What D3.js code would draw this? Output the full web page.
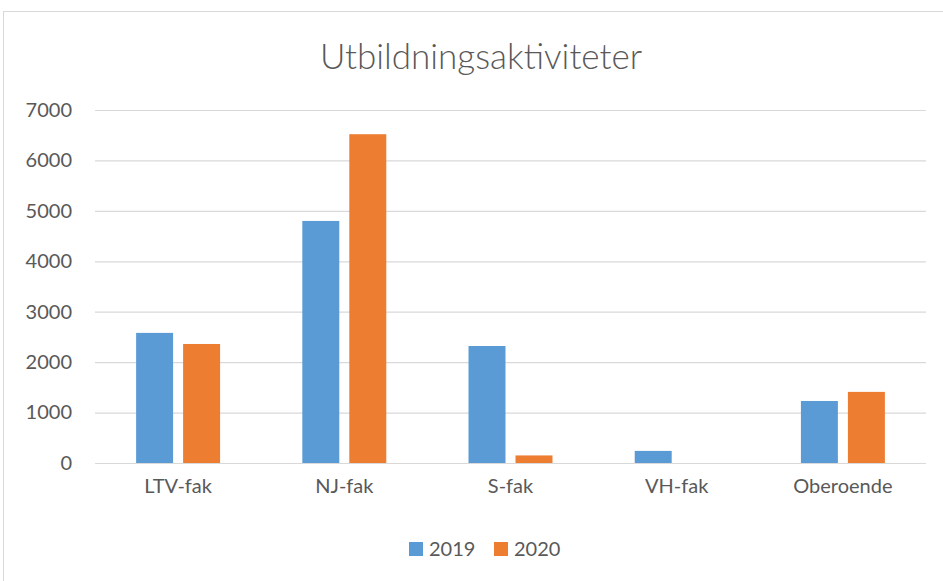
<!DOCTYPE html>
<html>
<head>
<meta charset="utf-8">
<script src="https://cdn.jsdelivr.net/npm/d3@7"></script>
<style>
  body { margin: 0; background: #fff; }
  text { font-family: Lato, "Open Sans", sans-serif; fill: #595959; }
</style>
</head>
<body>
<div id="chart"></div>
<script>
// data
const categories = ["LTV-fak", "NJ-fak", "S-fak", "VH-fak", "Oberoende"];
const series = ["2019", "2020"];
const values2019 = [2580, 4800, 2320, 240, 1230];
const values2020 = [2360, 6520, 150, 0, 1410];
const yTicks = [0, 1000, 2000, 3000, 4000, 5000, 6000, 7000];
const colors = ["#5b9bd5", "#ed7d31"];

const W = 943, H = 581;
const plot = { left: 95, right: 926, top: 110, bottom: 463 };

const svg = d3.select("#chart").append("svg")
    .attr("width", W)
    .attr("height", H);

// chart area border (runs off the right and bottom edge)
svg.append("rect")
    .attr("x", 3.5).attr("y", 11.5)
    .attr("width", W + 10).attr("height", H + 10)
    .attr("fill", "none")
    .attr("stroke", "#d9d9d9");

svg.append("text")
    .attr("x", 481).attr("y", 69)
    .attr("text-anchor", "middle")
    .style("font-size", "35px")
    .style("font-weight", 300)
    .text("Utbildningsaktiviteter");

const y = d3.scaleLinear().domain([0, 7000]).range([plot.bottom, plot.top]);
const x0 = d3.scaleBand().domain(categories).range([plot.left, plot.right]);
const x1 = d3.scaleBand().domain(series).range([0, x0.bandwidth()])
    .paddingInner(0.213).paddingOuter(0.875);

// gridlines + y labels
const yAxis = svg.append("g")
    .attr("transform", "translate(" + plot.left + ",0)")
    .call(d3.axisLeft(y).tickValues(yTicks).tickFormat(d3.format("d"))
      .tickSize(-(plot.right - plot.left)).tickPadding(23));
yAxis.select(".domain").remove();
yAxis.selectAll(".tick line").attr("stroke", "#d9d9d9").attr("stroke-width", 1.2);
yAxis.selectAll(".tick text")
    .style("font-size", "20px")
    .style("font-family", "Lato, sans-serif")
    .attr("fill", "#595959");

const rows = categories.map((c, i) => ({ cat: c, vals: [values2019[i], values2020[i]] }));

const groups = svg.append("g").selectAll("g")
    .data(rows)
    .join("g")
    .attr("transform", d => "translate(" + x0(d.cat) + ",0)");

groups.selectAll("rect")
    .data(d => d.vals.map((v, j) => ({ key: series[j], v: v, j: j })))
    .join("rect")
    .filter(d => d.v > 0)
    .attr("x", d => x1(d.key))
    .attr("width", x1.bandwidth())
    .attr("y", d => y(d.v))
    .attr("height", d => y(0) - y(d.v))
    .attr("fill", d => colors[d.j]);

// category labels
const xAxis = svg.append("g")
    .attr("transform", "translate(0," + plot.bottom + ")")
    .call(d3.axisBottom(x0).tickSize(0).tickPadding(16));
xAxis.select(".domain").remove();
xAxis.selectAll(".tick text")
    .style("font-size", "20px")
    .style("font-family", "Lato, sans-serif")
    .attr("fill", "#595959");

// legend
const legend = svg.append("g").attr("transform", "translate(409,542)");
const items = legend.selectAll("g")
    .data(series)
    .join("g")
    .attr("transform", (d, i) => "translate(" + (i * 85) + ",0)");
items.append("rect")
    .attr("width", 14).attr("height", 14)
    .attr("fill", (d, i) => colors[i]);
items.append("text")
    .attr("x", 20).attr("y", 14)
    .style("font-size", "20px")
    .text(d => d);
</script>
</body>
</html>
